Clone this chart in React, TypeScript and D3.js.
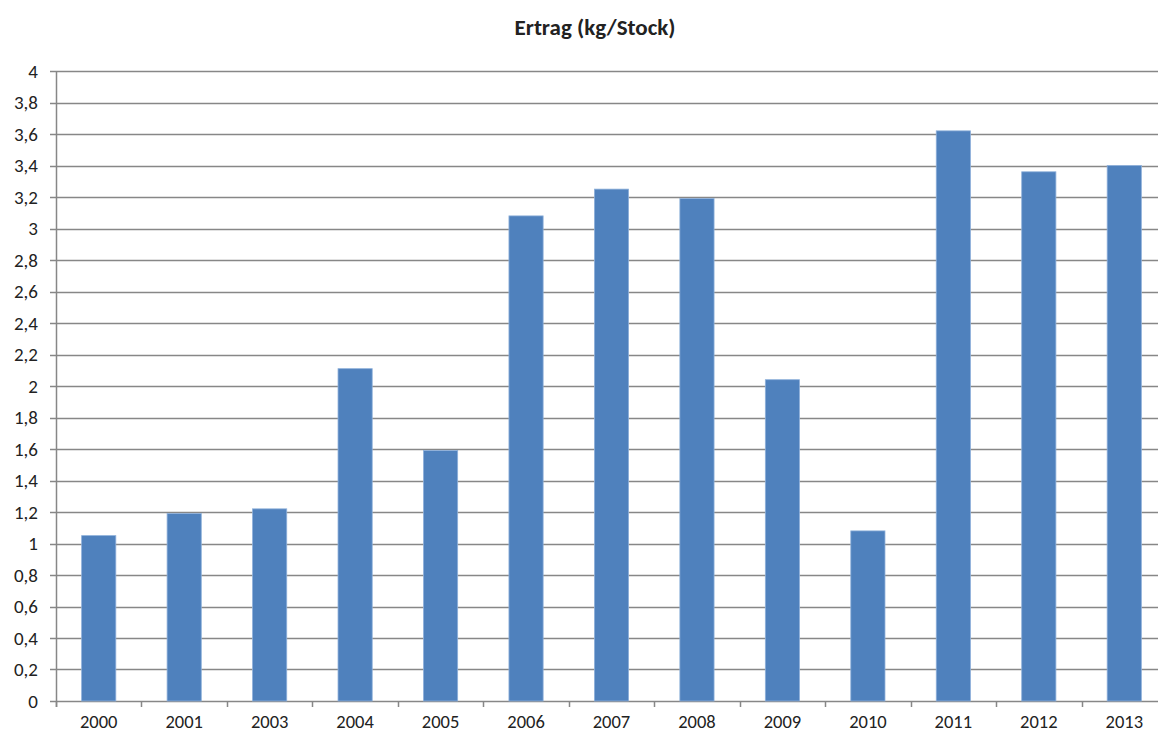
import React, { useEffect, useRef } from "react";
import * as d3 from "d3";

const years = ["2000", "2001", "2003", "2004", "2005", "2006", "2007", "2008", "2009", "2010", "2011", "2012", "2013"];
const yields = [1.05, 1.19, 1.22, 2.11, 1.59, 3.08, 3.25, 3.19, 2.04, 1.08, 3.62, 3.36, 3.4];
const yTicks = [0, 0.2, 0.4, 0.6, 0.8, 1, 1.2, 1.4, 1.6, 1.8, 2, 2.2, 2.4, 2.6, 2.8, 3, 3.2, 3.4, 3.6, 3.8, 4];
const title = "Ertrag (kg/Stock)";

const App = () => {
  const ref = useRef<SVGSVGElement>(null);
  const width = 1158;
  const height = 735;
  const margin = { top: 71, bottom: 34, left: 56, right: -9 };

  useEffect(() => {
    const svg = d3.select(ref.current);
    svg.selectAll("*").remove();
    const font = "Carlito, Lato, 'Noto Sans', sans-serif";

    const x = d3
      .scaleBand()
      .domain(years)
      .range([margin.left, width - margin.right])
      .paddingInner(0.6)
      .paddingOuter(0.3);
    const y = d3
      .scaleLinear()
      .domain([0, 4])
      .range([height - margin.bottom, margin.top]);

    // grid
    svg
      .append("g")
      .selectAll("line")
      .data(yTicks)
      .enter()
      .append("line")
      .attr("x1", margin.left - 6)
      .attr("x2", width)
      .attr("y1", (d) => Math.round(y(d)) + 0.5)
      .attr("y2", (d) => Math.round(y(d)) + 0.5)
      .attr("stroke", "#878787")
      .attr("stroke-width", 1.5);

    svg
      .append("g")
      .selectAll("text")
      .data(yTicks)
      .enter()
      .append("text")
      .attr("x", 38)
      .attr("y", (d) => y(d))
      .attr("dy", "0.35em")
      .attr("text-anchor", "end")
      .attr("font-family", font)
      .attr("font-size", 19)
      .attr("fill", "#222")
      .text((d) => String(d).replace(".", ","));

    // bars
    svg
      .append("g")
      .selectAll("rect")
      .data(yields)
      .enter()
      .append("rect")
      .attr("x", (d, i) => x(years[i])!)
      .attr("y", (d) => y(d))
      .attr("width", x.bandwidth())
      .attr("height", (d) => y(0) - y(d))
      .attr("fill", "#4F81BD")
      .attr("stroke", "#8EB0DA")
      .attr("stroke-width", 0.8);

    // axes
    svg
      .append("line")
      .attr("x1", margin.left + 0.5)
      .attr("x2", margin.left + 0.5)
      .attr("y1", y(4))
      .attr("y2", y(0) + 6)
      .attr("stroke", "#878787")
      .attr("stroke-width", 1.5);

    const step = x.step();
    const bounds = d3.range(years.length + 1).map((i) => margin.left + i * step);
    svg
      .append("g")
      .selectAll("line")
      .data(bounds)
      .enter()
      .append("line")
      .attr("x1", (d) => Math.round(d) + 0.5)
      .attr("x2", (d) => Math.round(d) + 0.5)
      .attr("y1", y(0))
      .attr("y2", y(0) + 6)
      .attr("stroke", "#878787")
      .attr("stroke-width", 1.5);

    svg
      .append("g")
      .selectAll("text")
      .data(years)
      .enter()
      .append("text")
      .attr("x", (d) => x(d)! + x.bandwidth() / 2)
      .attr("y", 722)
      .attr("dy", "0.35em")
      .attr("text-anchor", "middle")
      .attr("font-family", font)
      .attr("font-size", 18.5)
      .attr("fill", "#222")
      .text((d) => d);

    svg
      .append("text")
      .attr("x", 595)
      .attr("y", 27)
      .attr("dy", "0.35em")
      .attr("text-anchor", "middle")
      .attr("font-family", font)
      .attr("font-weight", "bold")
      .attr("font-size", 23)
      .attr("fill", "#222")
      .text(title);
  });

  return (
    <svg
      ref={ref}
      width={width}
      height={height}
      style={{ position: "absolute", left: 0, top: 0, background: "#fff" }}
    ></svg>
  );
};

export default App;
